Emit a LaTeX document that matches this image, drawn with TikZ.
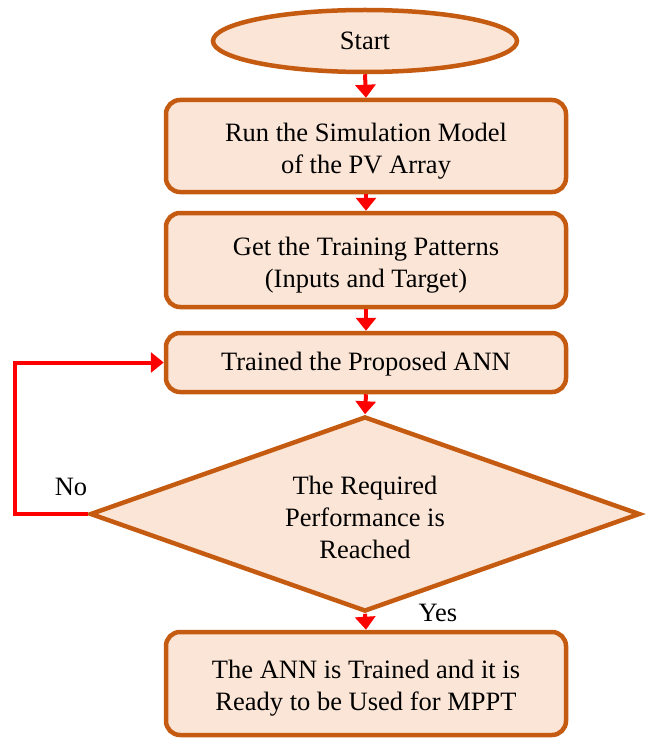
\documentclass[tikz,border=0pt]{standalone}
\usepackage{fontspec}
\setmainfont{Liberation Serif}
\usetikzlibrary{shapes.geometric,arrows.meta}
\definecolor{bord}{HTML}{C55A11}
\definecolor{fillc}{HTML}{FBE5D6}
\begin{document}
\begin{tikzpicture}[x=1pt,y=-1pt,
  every node/.style={font=\fontsize{26.5}{32}\selectfont, text=black},
  procbox/.style={draw=bord, fill=fillc, line width=4.5pt, rounded corners=14pt, minimum width=400pt, inner sep=0pt},
  txt/.style={align=center, inner sep=0pt},
  flow/.style={draw=red, line width=4pt, -{Triangle[width=20pt,length=13pt]}},
  lbl/.style={inner sep=0pt}]
\useasboundingbox (0,0) rectangle (655,738);
\node[draw=bord, fill=fillc, line width=4.5pt, ellipse, minimum width=304pt, minimum height=62pt, inner sep=0pt] (start) at (365,41) {Start};
\node[procbox, minimum height=92pt] (b1) at (366,146) {};
\node[txt] (b1t) at (366,151) {Run the Simulation Model\\of the PV Array};
\node[procbox, minimum height=94pt] (b2) at (366,260) {};
\node[txt] (b2t) at (366,265.5) {Get the Training Patterns\\(Inputs and Target)};
\node[procbox, minimum height=59pt] (b3) at (366,362.5) {};
\node[txt] (b3t) at (366,364.5) {Trained the Proposed ANN};
\node[draw=bord, fill=fillc, line width=4.5pt, diamond, aspect=2.82, minimum width=550pt, minimum height=195pt, inner sep=0pt] (dec) at (365,514) {};
\node[txt] (dect) at (365,517) {The Required\\Performance is\\Reached};
\node[procbox, minimum height=103pt] (b4) at (366,683.5) {};
\node[txt] (b4t) at (366,688.5) {The ANN is Trained and it is\\Ready to be Used for MPPT};
\draw[flow] (start.south) -- (b1.north);
\draw[flow] (b1.south) -- (b2.north);
\draw[flow] (b2.south) -- (b3.north);
\draw[flow] (b3.south) -- (dec.north);
\draw[flow] (dec.south) -- (b4.north);
\coordinate (c1) at (15,514);
\coordinate (c2) at (15,362.5);
\draw[flow] (dec.west) -- (c1) -- (c2) -- (b3.west);
\node[lbl] (no) at (71,487) {No};
\node[lbl] (yes) at (438,613) {Yes};
\end{tikzpicture}
\end{document}
